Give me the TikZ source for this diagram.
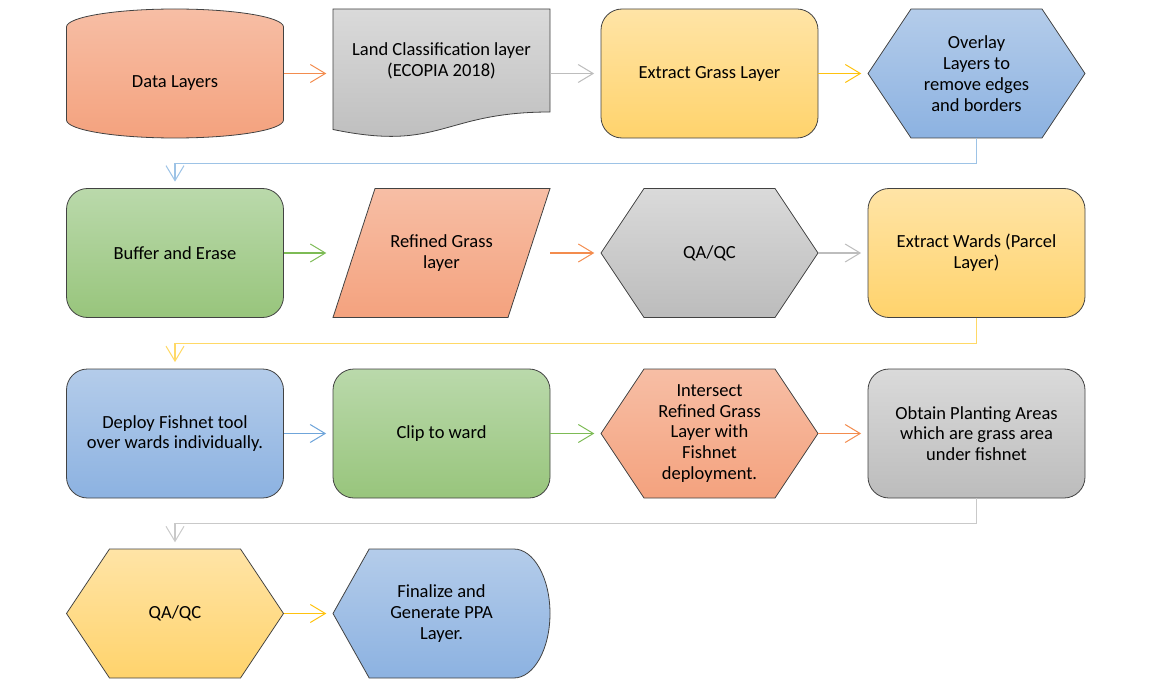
\documentclass[tikz,border=0pt]{standalone}
\usepackage{fontspec}
\setmainfont{Carlito}
\usetikzlibrary{arrows.meta,calc,backgrounds}

\definecolor{orangetop}{HTML}{F7BEA5}
\definecolor{orangebot}{HTML}{F4A27E}
\definecolor{greytop}{HTML}{DADADA}
\definecolor{greybot}{HTML}{BCBCBC}
\definecolor{yellowtop}{HTML}{FFE4A6}
\definecolor{yellowbot}{HTML}{FFD36C}
\definecolor{bluetop}{HTML}{B4CCEA}
\definecolor{bluebot}{HTML}{8CB2E1}
\definecolor{greentop}{HTML}{BAD9AB}
\definecolor{greenbot}{HTML}{98C57C}
\definecolor{outline}{HTML}{424242}
\definecolor{lineorange}{HTML}{F38C4E}
\definecolor{linegrey}{HTML}{BDBDBD}
\definecolor{linegold}{HTML}{FFC20E}
\definecolor{linegreen}{HTML}{7DBB55}
\definecolor{lineblue}{HTML}{6FA5DA}
\definecolor{lightblue}{HTML}{9DC3E6}
\definecolor{lightgold}{HTML}{FFD966}
\definecolor{lightgrey}{HTML}{C9C9C9}

\tikzset{
  txt/.style={inner sep=0pt, align=center, font=\fontsize{18.5bp}{20.8bp}\selectfont},
  blk/.style={txt, minimum width=217bp, minimum height=129bp},
  box/.style={blk, draw=outline, line width=0.8bp, rounded corners=21bp},
  shp/.style={draw=outline, line width=0.8bp},
  orangefill/.style={top color=orangetop, bottom color=orangebot},
  greyfill/.style={top color=greytop, bottom color=greybot},
  yellowfill/.style={top color=yellowtop, bottom color=yellowbot},
  bluefill/.style={top color=bluetop, bottom color=bluebot},
  greenfill/.style={top color=greentop, bottom color=greenbot},
  flow/.style={line width=1.1bp, shorten >=6.5bp,
    -{Straight Barb[length=15bp,width=18bp,line width=1bp]}},
  hexagon/.style={insert path={(-108.5,0) -- (-65.5,-64.5) -- (65.5,-64.5)
    -- (108.5,0) -- (65.5,64.5) -- (-65.5,64.5) -- cycle}}
}

\begin{document}
\begin{tikzpicture}[x=1bp, y=-1bp]
    \useasboundingbox (0,0) rectangle (1152,688);
    % row 1
    \node [blk] (data) at (175,73.5) {};
    \node [txt] (datatext) at (175,83) {Data Layers};
    \node [blk] (land) at (441.5,73.5) {};
    \node [txt] (landtext) at (441.5,60.5) {Land Classification layer\\(ECOPIA 2018)};
    \node [box, yellowfill] (grass) at (709.5,73.5) {Extract Grass Layer};
    \node [blk] (overlay) at (976.5,73.5) {Overlay\\Layers to\\remove edges\\and borders};
    % row 2
    \node [box, greenfill] (buffer) at (175,253) {Buffer and Erase};
    \node [blk] (refined) at (441.5,253) {Refined Grass\\layer};
    \node [blk] (qa) at (709.5,253) {QA/QC};
    \node [box, yellowfill] (wards) at (976.5,253) {Extract Wards (Parcel\\Layer)};
    % row 3
    \node [box, bluefill] (fishnet) at (175,433.5) {Deploy Fishnet tool\\over wards individually.};
    \node [box, greenfill] (clip) at (441.5,433.5) {Clip to ward};
    \node [blk] (intersect) at (709.5,433.5) {Intersect\\Refined Grass\\Layer with\\Fishnet\\deployment.};
    \node [box, greyfill] (planting) at (976.5,433.5) {Obtain Planting Areas\\which are grass area\\under fishnet};
    % row 4
    \node [blk] (qafinal) at (175,613.5) {QA/QC};
    \node [blk] (finalize) at (441.5,613.5) {Finalize and\\Generate PPA\\Layer.};

    \begin{scope}[on background layer]
        \path [shp, orangefill, shift={(data.center)}] (-108.5,-46.5) arc (180:360:108.5 and 18)
            -- (108.5,46.5) arc (0:180:108.5 and 18) -- cycle;
        \path [shp, greyfill, shift={(land.center)}] (-108.5,-64.5) -- (108.5,-64.5) -- (108.5,38.5)
            .. controls (0,38.5) and (0,78.5) .. (-108.5,56) -- cycle;
        \path [shp, bluefill, shift={(overlay.center)}, hexagon];
        \path [shp, orangefill, shift={(refined.center)}] (-66.5,-64.5) -- (108.5,-64.5)
            -- (66.5,64.5) -- (-108.5,64.5) -- cycle;
        \path [shp, greyfill, shift={(qa.center)}, hexagon];
        \path [shp, orangefill, shift={(intersect.center)}, hexagon];
        \path [shp, yellowfill, shift={(qafinal.center)}, hexagon];
        \path [shp, bluefill, shift={(finalize.center)}] (-108.5,0) -- (-72.3,-64.5) -- (72.3,-64.5)
            arc (-90:90:36.2 and 64.5) -- (-72.3,64.5) -- cycle;
    \end{scope}

    \draw [flow, lineorange] (data.east) -- (land.west);
    \draw [flow, linegrey] (land.east) -- (grass.west);
    \draw [flow, linegold] (grass.east) -- (overlay.west);
    \draw [flow, lightblue] (overlay.south) -- ++(0,25) -| (buffer.north);
    \draw [flow, linegreen] (buffer.east) -- (refined.west);
    \draw [flow, lineorange] (refined.east) -- (qa.west);
    \draw [flow, linegrey] (qa.east) -- (wards.west);
    \draw [flow, lightgold] (wards.south) -- ++(0,25.5) -| (fishnet.north);
    \draw [flow, lineblue] (fishnet.east) -- (clip.west);
    \draw [flow, linegreen] (clip.east) -- (intersect.west);
    \draw [flow, lineorange] (intersect.east) -- (planting.west);
    \draw [flow, lightgrey] (planting.south) -- ++(0,25.5) -| (qafinal.north);
    \draw [flow, linegold] (qafinal.east) -- (finalize.west);
\end{tikzpicture}
\end{document}
